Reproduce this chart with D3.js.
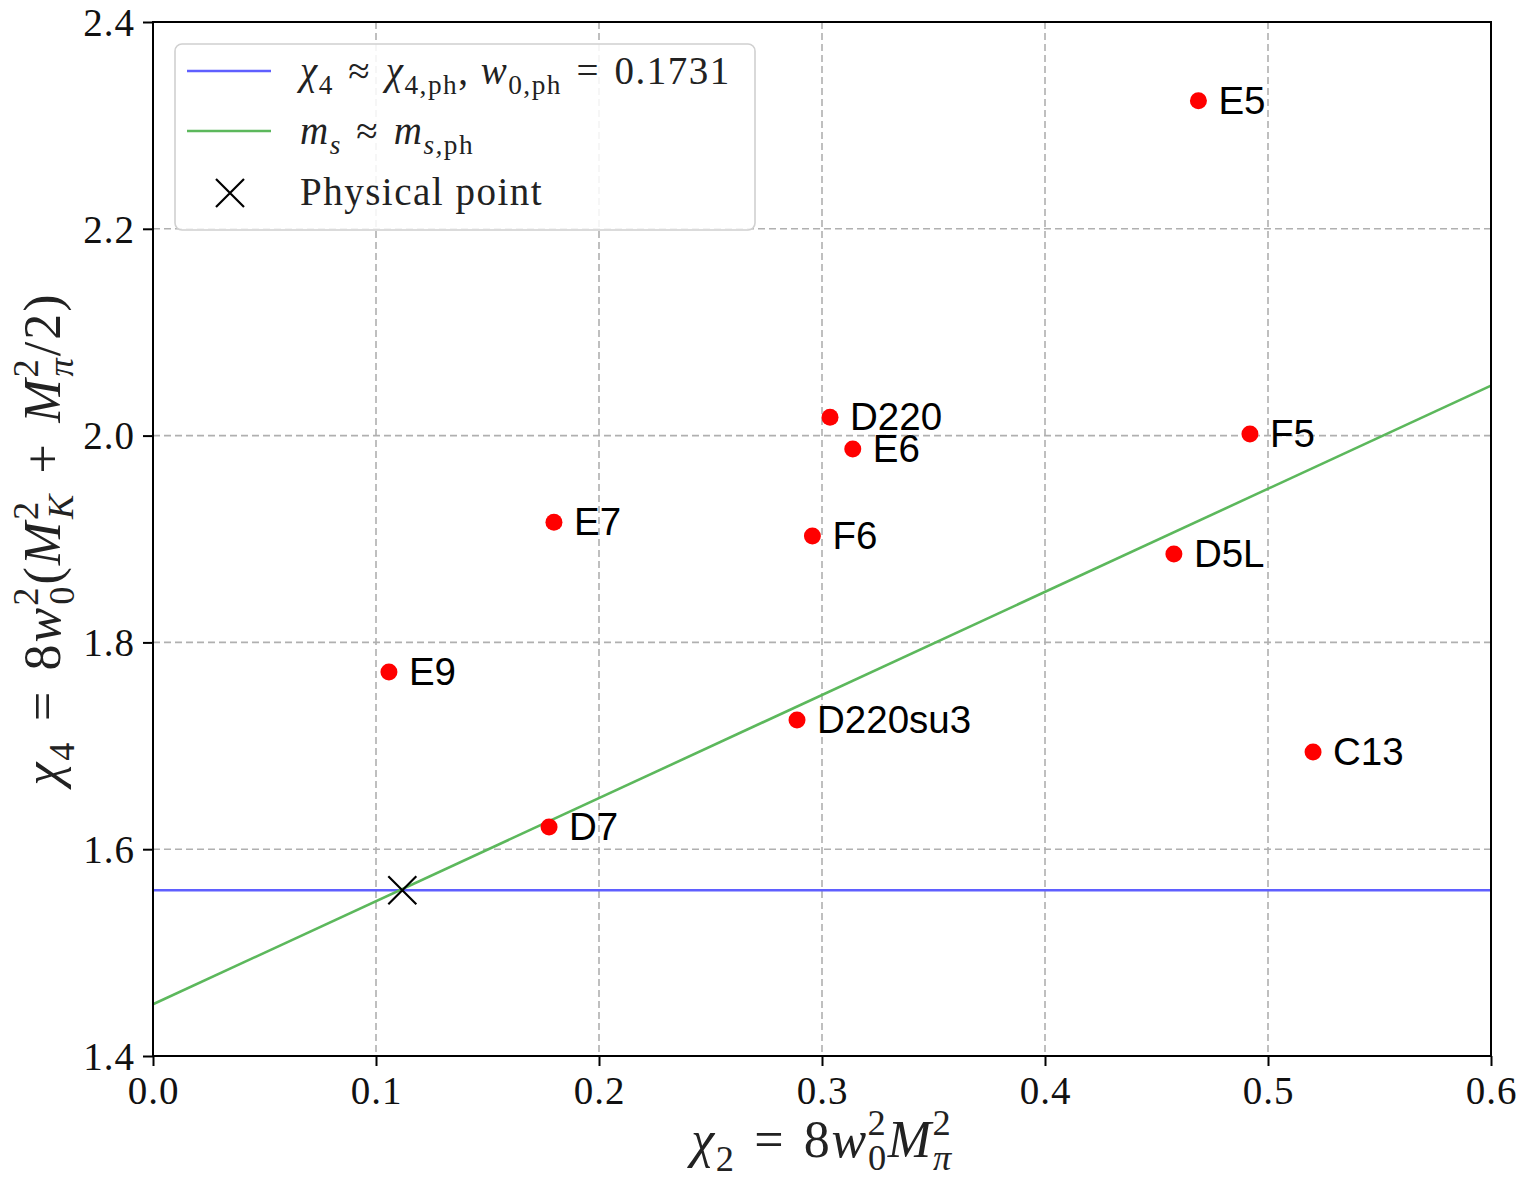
<!DOCTYPE html>
<html>
<head>
<meta charset="utf-8">
<script src="https://cdn.jsdelivr.net/npm/d3@7"></script>
<style>
  html, body { margin: 0; padding: 0; background: #fff; }
  svg { display: block; }
</style>
</head>
<body>
<svg id="chart" width="1521" height="1178"></svg>
<script>
// Ensembles and their (chi2, chi4) coordinates
const ensembles = ["E5", "D220", "E6", "F5", "E7", "F6", "D5L", "E9", "D220su3", "C13", "D7"];
const chi2Values = [0.4688, 0.3036, 0.3138, 0.4919, 0.1798, 0.2957, 0.4578, 0.1058, 0.2888, 0.5202, 0.1776];
const chi4Values = [2.3239, 2.0177, 1.9870, 2.0015, 1.9161, 1.9029, 1.8855, 1.7714, 1.7250, 1.6940, 1.6215];

// Physical point and the two constraint lines
const physicalPoint = [0.1118, 1.5603];
const chi4PhysLine = [[0.0, 1.5603], [0.6, 1.5603]];
const msPhysLine = [[0.0, 1.4500], [0.6, 2.0483]];

// Axis ticks
const xTicks = [0.0, 0.1, 0.2, 0.3, 0.4, 0.5, 0.6];
const yTicks = [1.4, 1.6, 1.8, 2.0, 2.2, 2.4];

const W = 1521, H = 1178;
const margin = { left: 153, top: 22, right: 30, bottom: 122 };
const pw = W - margin.left - margin.right;
const ph = H - margin.top - margin.bottom;

const svg = d3.select("#chart");
const g = svg.append("g").attr("transform", `translate(${margin.left},${margin.top})`);

const x = d3.scaleLinear().domain([0, 0.6]).range([0, pw]);
const y = d3.scaleLinear().domain([1.4, 2.4]).range([ph, 0]);

const serif = "'Liberation Serif', 'Times New Roman', serif";
const sans = "'Liberation Sans', Arial, sans-serif";
const SP = "\u2004"; // three-per-em space around relations

// Grid
const grid = g.append("g").attr("stroke", "#b0b0b0").attr("stroke-width", 1.6).attr("stroke-dasharray", "7,4");
grid.selectAll("line.gx").data(xTicks.slice(1, -1)).join("line")
  .attr("x1", d => x(d)).attr("x2", d => x(d)).attr("y1", 0).attr("y2", ph);
grid.selectAll("line.gy").data(yTicks.slice(1, -1)).join("line")
  .attr("y1", d => y(d)).attr("y2", d => y(d)).attr("x1", 0).attr("x2", pw);

// Constraint lines
const line = d3.line().x(d => x(d[0])).y(d => y(d[1]));
g.append("path").datum(chi4PhysLine).attr("d", line)
  .attr("fill", "none").attr("stroke", "#5f5fff").attr("stroke-width", 2.6);
g.append("path").datum(msPhysLine).attr("d", line)
  .attr("fill", "none").attr("stroke", "#5cb85c").attr("stroke-width", 2.6);

// Ensemble points
const pts = ensembles.map((name, i) => ({ name, cx: chi2Values[i], cy: chi4Values[i] }));
g.selectAll("circle.pt").data(pts).join("circle")
  .attr("cx", d => x(d.cx)).attr("cy", d => y(d.cy)).attr("r", 8.5).attr("fill", "#ff0000");

g.selectAll("text.lbl").data(pts).join("text")
  .attr("x", d => x(d.cx) + 20).attr("y", d => y(d.cy) + 13)
  .attr("font-family", sans).attr("font-size", 38.5).attr("fill", "#000")
  .text(d => d.name);

// Physical point marker
function crossPath(cx, cy, s) {
  return `M${cx - s},${cy - s}L${cx + s},${cy + s}M${cx - s},${cy + s}L${cx + s},${cy - s}`;
}
g.append("path").attr("d", crossPath(x(physicalPoint[0]), y(physicalPoint[1]), 14))
  .attr("stroke", "#000").attr("stroke-width", 2.2).attr("fill", "none");

// Axes
const xAxis = g.append("g").attr("transform", `translate(0,${ph})`)
  .call(d3.axisBottom(x).tickValues(xTicks).tickFormat(d3.format(".1f")).tickSize(10).tickPadding(10));
const yAxis = g.append("g")
  .call(d3.axisLeft(y).tickValues(yTicks).tickFormat(d3.format(".1f")).tickSize(10).tickPadding(8));
[xAxis, yAxis].forEach(a => {
  a.select(".domain").remove();
  a.selectAll(".tick line").attr("stroke", "#000").attr("stroke-width", 2);
  a.selectAll(".tick text").attr("font-family", serif).attr("font-size", 39)
    .attr("letter-spacing", 1).attr("fill", "#111");
});
yAxis.selectAll(".tick text").attr("dy", "0.34em");
xAxis.selectAll(".tick text").attr("dy", "0.72em");

// Frame
g.append("rect").attr("x", 0).attr("y", 0).attr("width", pw).attr("height", ph)
  .attr("fill", "none").attr("stroke", "#000").attr("stroke-width", 2);

// Rich math text: parts are [text, style, position, back-shift in em]
function mathText(sel, parts) {
  let level = 0;
  const offs = { "-1": -0.42, "0": 0, "1": 0.26 };
  parts.forEach(p => {
    const [t, style, pos, back] = p;
    const target = pos === "sup" ? -1 : pos === "sub" ? 1 : 0;
    const ts = sel.append("tspan").text(t);
    if (style === "i") ts.attr("font-style", "italic");
    const fsScale = pos === "base" ? 1 : 0.7;
    if (pos !== "base") ts.attr("font-size", "0.7em");
    const dyEm = offs[target] - offs[level];
    if (dyEm !== 0) ts.attr("dy", (dyEm / fsScale).toFixed(3) + "em");
    if (back) ts.attr("dx", (-back / fsScale).toFixed(3) + "em");
    level = target;
  });
}

// X axis label
const xl = svg.append("text")
  .attr("x", margin.left + pw / 2).attr("y", 1157)
  .attr("text-anchor", "middle").attr("font-family", serif).attr("font-size", 52)
  .attr("letter-spacing", 1.5).attr("fill", "#222");
mathText(xl, [
  ["χ", "i", "base"], ["2", "n", "sub"], [SP + "=" + SP + "8", "n", "base"], ["w", "i", "base"],
  ["2", "n", "sup"], ["0", "n", "sub", 0.37], ["M", "i", "base"], ["2", "n", "sup"], ["π", "i", "sub", 0.37]
]);

// Y axis label
const yl = svg.append("text")
  .attr("transform", `translate(60,${margin.top + y(1.9)}) rotate(-90)`)
  .attr("text-anchor", "middle").attr("font-family", serif).attr("font-size", 52)
  .attr("letter-spacing", 2).attr("fill", "#222");
mathText(yl, [
  ["χ", "i", "base"], ["4", "n", "sub"], [SP + "=" + SP + "8", "n", "base"], ["w", "i", "base"],
  ["2", "n", "sup"], ["0", "n", "sub", 0.37], ["(", "n", "base"], ["M", "i", "base"], ["2", "n", "sup"], ["K", "i", "sub", 0.37],
  [SP + "+" + SP, "n", "base"], ["M", "i", "base"], ["2", "n", "sup"], ["π", "i", "sub", 0.37], ["/2)", "n", "base"]
]);

// Legend
const lg = svg.append("g").attr("transform", "translate(175,44)");
lg.append("rect").attr("width", 580).attr("height", 186).attr("rx", 7)
  .attr("fill", "#fff").attr("fill-opacity", 0.85).attr("stroke", "#d0d0d0").attr("stroke-width", 1.6);
lg.append("line").attr("x1", 12).attr("x2", 96).attr("y1", 27).attr("y2", 27)
  .attr("stroke", "#5f5fff").attr("stroke-width", 2.6);
lg.append("line").attr("x1", 12).attr("x2", 96).attr("y1", 87).attr("y2", 87)
  .attr("stroke", "#5cb85c").attr("stroke-width", 2.6);
lg.append("path").attr("d", crossPath(55, 149, 14)).attr("stroke", "#000").attr("stroke-width", 2.2).attr("fill", "none");

const legendText = (yy) => lg.append("text").attr("x", 125).attr("y", yy)
  .attr("font-family", serif).attr("font-size", 39).attr("letter-spacing", 1.5).attr("fill", "#222");
mathText(legendText(40), [
  ["χ", "i", "base"], ["4", "n", "sub"], [SP + "≈" + SP, "n", "base"], ["χ", "i", "base"], ["4,ph", "n", "sub"],
  [", ", "n", "base"], ["w", "i", "base"], ["0,ph", "n", "sub"], [SP + "=" + SP + "0.1731", "n", "base"]
]);
mathText(legendText(100), [
  ["m", "i", "base"], ["s", "i", "sub"], [SP + "≈" + SP, "n", "base"], ["m", "i", "base"], ["s,", "i", "sub"], ["ph", "n", "sub"]
]);
mathText(legendText(161), [["Physical point", "n", "base"]]);
</script>
</body>
</html>
